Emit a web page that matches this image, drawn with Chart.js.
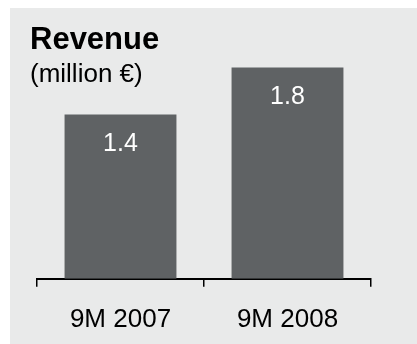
<!DOCTYPE html>
<html>
<head>
<meta charset="utf-8">
<script src="https://cdn.jsdelivr.net/npm/chart.js@4"></script>
<style>
  html, body { margin: 0; padding: 0; background: #fff; }
  body { width: 417px; height: 344px; position: relative; overflow: hidden; font-family: "Liberation Sans", Arial, sans-serif; }
  #panel { position: absolute; left: 10px; top: 8px; width: 407px; height: 336px; background: #e9eaea; }
  #title { position: absolute; left: 20px; top: 15px; font-size: 31px; line-height: 31px; font-weight: bold; color: #000; }
  #unit { position: absolute; left: 20px; top: 52px; font-size: 26px; line-height: 26px; color: #000; }
  #chart-wrap { position: absolute; left: 0; top: 0; width: 407px; height: 344px; }
</style>
</head>
<body>
<div id="panel">
  <div id="chart-wrap"><canvas id="revenue-chart"></canvas></div>
  <div id="title">Revenue</div>
  <div id="unit">(million €)</div>
</div>
<script>
const periods = ["9M 2007", "9M 2008"];
const revenue = [1.4, 1.8];
const valueLabels = ["1.4", "1.8"];

// 막대 안쪽 위에 값 표시
const barValues = {
    id: "barValues",
    afterDatasetsDraw(chart) {
        const { ctx } = chart;
        const meta = chart.getDatasetMeta(0);
        ctx.save();
        ctx.fillStyle = "#ffffff";
        ctx.font = "25px 'Liberation Sans', Arial, sans-serif";
        ctx.textAlign = "center";
        ctx.textBaseline = "alphabetic";
        meta.data.forEach((bar, i) => {
            ctx.fillText(valueLabels[i], bar.x, bar.y + 37);
        });
        ctx.restore();
    }
};

const ctx = document.getElementById("revenue-chart").getContext("2d");
new Chart(ctx, {
    type: "bar",
    data: {
        labels: periods,
        datasets: [{
            data: revenue,
            backgroundColor: "#5f6264",
            barPercentage: 0.67,
            categoryPercentage: 1
        }]
    },
    options: {
        responsive: true,
        maintainAspectRatio: false,
        animation: false,
        layout: { padding: { left: 27, right: 46, top: 36, bottom: 0 } },
        plugins: {
            legend: { display: false },
            tooltip: { enabled: false }
        },
        scales: {
            x: {
                offset: true,
                grid: {
                    offset: true,
                    drawOnChartArea: false,
                    drawTicks: true,
                    tickLength: 8,
                    color: "#000",
                    lineWidth: 1.5
                },
                border: { display: true, color: "#000", width: 2 },
                ticks: {
                    color: "#000",
                    padding: 17,
                    font: { family: "'Liberation Sans', Arial, sans-serif", size: 26 }
                }
            },
            y: {
                display: false,
                min: 0,
                max: 2
            }
        }
    },
    plugins: [barValues]
});
</script>
</body>
</html>
